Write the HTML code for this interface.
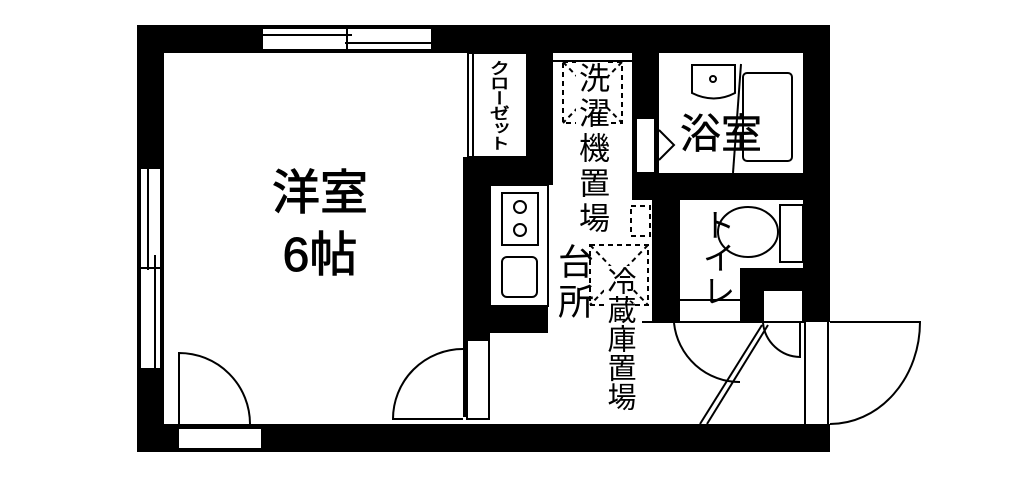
<!DOCTYPE html>
<html><head><meta charset="utf-8"><style>
body{margin:0;background:#fff;width:1024px;height:486px;overflow:hidden;position:relative;font-family:"Liberation Sans","Noto Sans CJK JP",sans-serif}
svg{position:absolute;left:0;top:0}
.t{position:absolute;color:#000;line-height:1}
.v{writing-mode:vertical-rl;text-orientation:upright}
</style></head><body>
<svg width="1024" height="486" viewBox="0 0 1024 486">
<g fill="#000">
<rect x="137" y="25" width="693" height="28"/>
<rect x="137" y="424" width="693" height="28"/>
<rect x="137" y="25" width="27" height="427"/>
<rect x="463" y="157" width="27" height="260"/>
<rect x="463" y="157" width="90" height="28"/>
<rect x="527" y="25" width="26" height="160"/>
<rect x="463" y="306" width="85" height="27"/>
<rect x="632" y="25" width="27" height="175"/>
<rect x="632" y="173" width="198" height="27"/>
<rect x="652" y="173" width="28" height="150"/>
<rect x="803" y="25" width="27" height="297"/>
<rect x="740" y="268" width="90" height="22"/>
<rect x="740" y="268" width="23" height="55"/>
</g>
<g fill="#fff" stroke="#000" stroke-width="2">
<rect x="262" y="28" width="170" height="22"/>
<rect x="140" y="168" width="21" height="201"/>
<rect x="178" y="428" width="84" height="21"/>
<rect x="467" y="340" width="22" height="79"/>
<rect x="636" y="118" width="19" height="55"/>
<rect x="763" y="290" width="40" height="32"/>
<rect x="468" y="53" width="59" height="104"/>
<rect x="490" y="185" width="58" height="121"/>
</g>
<g fill="none" stroke="#000" stroke-width="2">
<line x1="262" y1="35" x2="352" y2="35"/><line x1="345" y1="43" x2="432" y2="43"/>
<line x1="347" y1="28" x2="347" y2="50"/>
<line x1="148" y1="168" x2="148" y2="270"/><line x1="155" y1="255" x2="155" y2="369"/>
<line x1="140" y1="268" x2="161" y2="268"/>
<line x1="473" y1="53" x2="473" y2="157"/>
<path d="M179 424 V353 A71 71 0 0 1 250 424"/>
<path d="M463 419 H393 A70 70 0 0 1 463 349"/>
<rect x="502" y="193" width="36" height="52"/>
<circle cx="520" cy="207" r="6"/><circle cx="520" cy="230" r="6"/>
<rect x="502" y="257" width="35" height="40" rx="5"/>
<line x1="553" y1="61" x2="632" y2="61"/>
<path d="M692 65 H735 V93 Q714 104 692 93 Z"/>
<circle cx="713" cy="79" r="3"/>
<line x1="741" y1="64" x2="733" y2="173"/>
<rect x="743" y="73" width="49" height="88" rx="4"/>
<path d="M659 130 L674 145 L659 160"/>
<ellipse cx="748" cy="232" rx="30" ry="25"/>
<rect x="780" y="205" width="23" height="57"/>
<line x1="680" y1="300" x2="740" y2="300"/>
<line x1="642" y1="322" x2="680" y2="322"/>
<line x1="680" y1="322" x2="803" y2="322"/>
<path d="M674 323 A66 66 0 0 0 740 382"/>
<line x1="762" y1="325" x2="700" y2="424"/><line x1="768" y1="325" x2="707" y2="424"/>
<path d="M763 323 A38 38 0 0 0 800 357 V323"/>
<line x1="805" y1="322" x2="805" y2="424"/><line x1="828" y1="322" x2="828" y2="424"/>
<path d="M830 322 H920 A90 102 0 0 1 830 424"/>
</g>
<g fill="none" stroke="#000" stroke-width="2" stroke-dasharray="5,4">
<rect x="563" y="62" width="59" height="61"/>
<line x1="563" y1="62" x2="622" y2="123"/><line x1="622" y1="62" x2="563" y2="123"/>
<rect x="631" y="206" width="19" height="30"/>
<rect x="590" y="245" width="58" height="60"/>
<line x1="590" y1="245" x2="648" y2="305"/><line x1="648" y1="245" x2="590" y2="305"/>
</g>
</svg>
<div class="t" style="left:260px;top:170px;font-size:48px;width:120px;text-align:center;-webkit-text-stroke:1px #000">洋室</div>
<div class="t" style="left:260px;top:232px;font-size:48px;width:120px;text-align:center;-webkit-text-stroke:1px #000">6帖</div>
<div class="t v" style="left:488px;top:60px;font-size:16px;letter-spacing:-1px;transform:scaleX(1.25);transform-origin:center top;-webkit-text-stroke:0.6px #000">クローゼット</div>
<div class="t v" style="left:576px;top:62px;font-size:31px;letter-spacing:4px;background:#fff">洗濯機置場</div>
<div class="t v" style="left:555px;top:243px;font-size:36px;letter-spacing:4px">台所</div>
<div class="t v" style="left:604px;top:266px;font-size:29px;letter-spacing:0px;background:#fff">冷蔵庫置場</div>
<div class="t" style="left:680px;top:114px;font-size:41px;-webkit-text-stroke:0.5px #000">浴室</div>
<div class="t v" style="left:700px;top:208px;font-size:33px;letter-spacing:0px">トイレ</div>
</body></html>
